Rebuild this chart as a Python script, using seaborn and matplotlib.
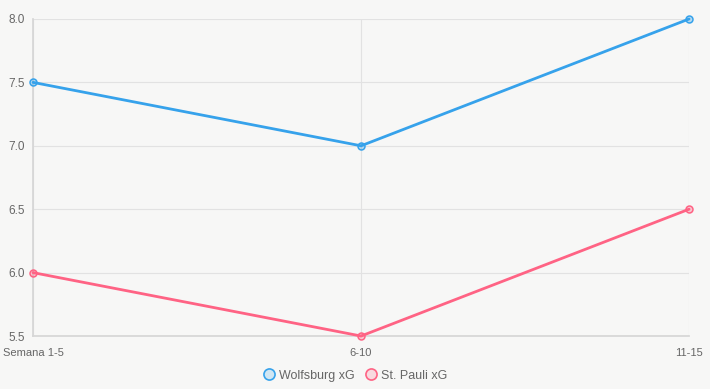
import matplotlib
matplotlib.use("Agg")
import matplotlib.pyplot as plt
from matplotlib.lines import Line2D
import seaborn as sns
import pandas as pd

semanas = ["Semana 1-5", "6-10", "11-15"]
wolfsburg_xg = [7.5, 7.0, 8.0]
st_pauli_xg = [6.0, 5.5, 6.5]
y_ticks = [5.5, 6.0, 6.5, 7.0, 7.5, 8.0]

azul = "#36a2eb"
rosa = "#ff6384"
fondo = "#f7f7f6"

df = pd.DataFrame({
    "semana": semanas * 2,
    "pos": [0, 1, 2] * 2,
    "xg": wolfsburg_xg + st_pauli_xg,
    "equipo": ["Wolfsburg xG"] * 3 + ["St. Pauli xG"] * 3,
})

sns.set_theme(style="white")
plt.rcParams["font.family"] = ["Liberation Sans", "DejaVu Sans"]

fig = plt.figure(figsize=(7.1, 3.89), dpi=100)
fig.patch.set_facecolor(fondo)
ax = fig.add_axes([0.0465, 0.1362, 0.924, 0.815])
ax.set_facecolor(fondo)

sns.lineplot(data=df, x="pos", y="xg", hue="equipo",
             palette={"Wolfsburg xG": azul, "St. Pauli xG": rosa},
             linewidth=2.0, marker="o", markersize=5,
             markeredgewidth=1.1, legend=False, ax=ax, zorder=3)
# bordes de los marcadores del color de la linea, relleno suave
for line, c in zip(ax.lines, [azul, rosa]):
    line.set_markeredgecolor(c)
    line.set_markerfacecolor(c + "55")
    line.set_clip_on(False)

ax.set_xlim(0, 2)
ax.set_ylim(5.5, 8.0)
ax.set_xticks([0, 1, 2])
ax.set_xticklabels(semanas)
ax.set_yticks(y_ticks)
ax.set_yticklabels([f"{v:.1f}" for v in y_ticks])
ax.set_xlabel("")
ax.set_ylabel("")
ax.grid(True, color="#e2e2e2", linewidth=0.8)
for s in ax.spines.values():
    s.set_visible(False)
ax.spines["left"].set_visible(True)
ax.spines["bottom"].set_visible(True)
ax.spines["left"].set_color("#d6d6d6")
ax.spines["bottom"].set_color("#d6d6d6")
ax.tick_params(axis="both", length=4.3, width=0.8, color="#d6d6d6",
               labelsize=8.5, labelcolor="#666666", pad=1.5)
ax.tick_params(axis="x", pad=4, labelsize=8)

handles = [
    Line2D([], [], linestyle="", marker="o", markersize=8, markeredgewidth=1.2,
           markeredgecolor=azul, markerfacecolor=azul + "33", label="Wolfsburg xG"),
    Line2D([], [], linestyle="", marker="o", markersize=8, markeredgewidth=1.2,
           markeredgecolor=rosa, markerfacecolor=rosa + "33", label="St. Pauli xG"),
]
fig.legend(handles=handles, loc="lower center", bbox_to_anchor=(0.5, -0.01),
           ncol=2, frameon=False, fontsize=9, labelcolor="#666666",
           handletextpad=0.3, columnspacing=0.8, handlelength=1.0)

fig.savefig("out.png", dpi=100, facecolor=fondo)
